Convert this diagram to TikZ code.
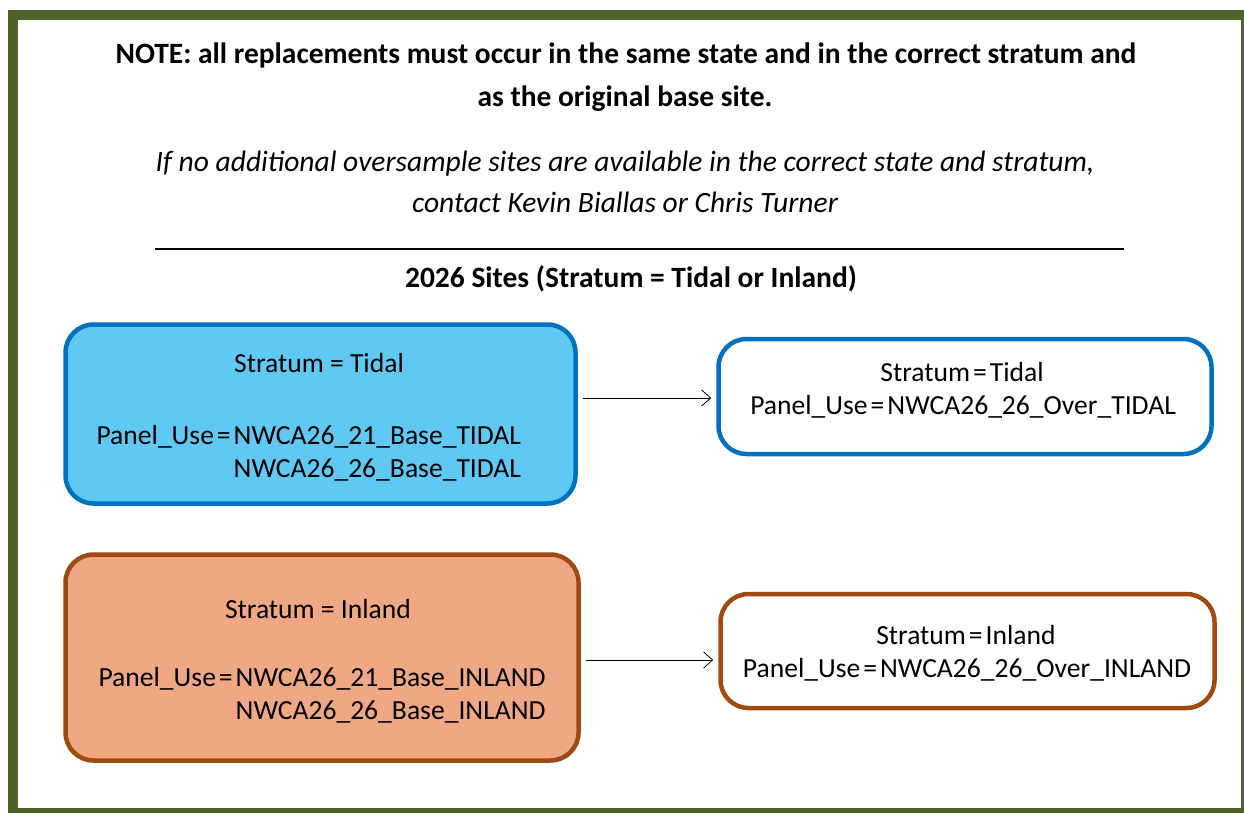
\documentclass[tikz,border=0pt]{standalone}
\usepackage{fontspec}
\setmainfont{Carlito}
\usetikzlibrary{arrows.meta}

\definecolor{framegreen}{HTML}{4F6228}
\definecolor{tidalfill}{HTML}{5FC9F3}
\definecolor{tidaledge}{HTML}{0070C0}
\definecolor{inlandfill}{HTML}{F0A884}
\definecolor{inlandedge}{HTML}{9E4A10}

\newcommand{\eqt}{\hspace{3pt}=\hspace{3pt}}

\tikzset{
  sitebox/.style={rounded corners=28pt, line width=4.5pt, minimum width=#1},
  boxtext/.style={anchor=base, font=\fontsize{27.6}{32}\selectfont},
  headbold/.style={anchor=base, font=\bfseries\fontsize{29.5}{34}\selectfont},
  headital/.style={anchor=base, font=\itshape\fontsize{29.5}{34}\selectfont},
  swap/.style={-{Straight Barb[length=9pt,width=16pt]}, line width=0.8pt}
}

\begin{document}
\begin{tikzpicture}[x=1pt,y=-1pt]
\useasboundingbox (0,0) rectangle (1244,812);
\fill[white] (0,0) rectangle (1244,812);
\draw[line width=10pt, framegreen] (13,15) rectangle (1246,813);

% heading
\node[headbold] (note1) at (626,63)
  {NOTE: all replacements must occur in the same state and in the correct stratum and};
\node[headbold] (note2) at (625,106)
  {as the original base site.};
\node[headital] (hint1) at (625,171)
  {If no additional oversample sites are available in the correct state and stratum,};
\node[headital] (hint2) at (625,212)
  {contact Kevin Biallas or Chris Turner};
\coordinate (ruleL) at (155,249);
\coordinate (ruleR) at (1124,249);
\draw[line width=1.2pt] (ruleL) -- (ruleR);
\node[headbold] (sites) at (631,287)
  {2026 Sites (Stratum = Tidal or Inland)};

% tidal
\node[sitebox=510pt, minimum height=179pt, fill=tidalfill, draw=tidaledge] (tidal) at (320.5,414) {};
\node[boxtext] (tidalstr) at (319,372) {Stratum = Tidal};
\node[boxtext, anchor=base west] (tidalp1) at (93,444) {Panel\_Use\eqt NWCA26\_21\_Base\_TIDAL};
\node[boxtext, anchor=base west] (tidalp2) at (93,477) {\phantom{Panel\_Use\eqt}NWCA26\_26\_Base\_TIDAL};

\node[sitebox=493pt, minimum height=115pt, fill=white, draw=tidaledge] (tidalover) at (965,396.5) {};
\node[boxtext] (tidalostr) at (962,381) {Stratum\eqt Tidal};
\node[boxtext] (tidalop) at (963,414) {Panel\_Use\eqt NWCA26\_26\_Over\_TIDAL};

\draw[swap] ([xshift=5pt]tidal.east |- 0,398) -- ([xshift=-5pt]tidalover.west |- 0,398);

% inland
\node[sitebox=513pt, minimum height=206pt, fill=inlandfill, draw=inlandedge] (inland) at (322,657.5) {};
\node[boxtext] (inlandstr) at (318,618) {Stratum = Inland};
\node[boxtext, anchor=base west] (inlandp1) at (95,686) {Panel\_Use\eqt NWCA26\_21\_Base\_INLAND};
\node[boxtext, anchor=base west] (inlandp2) at (95,719) {\phantom{Panel\_Use\eqt}NWCA26\_26\_Base\_INLAND};

\node[sitebox=494pt, minimum height=114pt, fill=white, draw=inlandedge] (inlandover) at (967.5,651) {};
\node[boxtext] (inlandostr) at (966,644) {Stratum\eqt Inland};
\node[boxtext] (inlandop) at (967,677) {Panel\_Use\eqt NWCA26\_26\_Over\_INLAND};

\draw[swap] ([xshift=5pt]inland.east |- 0,660) -- ([xshift=-5pt]inlandover.west |- 0,660);
\end{tikzpicture}
\end{document}
